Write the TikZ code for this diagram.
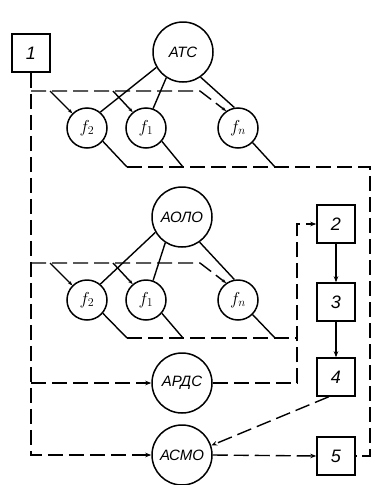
\documentclass[tikz,border=0pt]{standalone}
\usepackage{fontspec}
\setmainfont{Liberation Sans}
\usetikzlibrary{arrows.meta}
\begin{document}
\begin{tikzpicture}[x=1pt,y=-1pt,
  ln/.style={line width=1.4pt},
  dsh/.style={ln, dash pattern=on 15pt off 6pt},
  arr/.style={-{Stealth[length=6pt,width=4.5pt]}},
  sarr/.style={-{Stealth[length=4.5pt,width=3.5pt]}},
  big/.style={circle,draw,line width=1.5pt,minimum size=60pt,inner sep=0pt,font=\itshape\fontsize{15}{15}\selectfont},
  sm/.style={circle,draw,line width=1.5pt,minimum size=40pt,inner sep=0pt,font=\fontsize{17}{17}\selectfont},
  bx/.style={rectangle,draw,line width=1.5pt,minimum size=38pt,inner sep=0pt,font=\itshape\fontsize{18}{18}\selectfont}]
\useasboundingbox (0,0) rectangle (375,485);

% nodes
\node[bx] (b1) at (31,53) {1};
\node[big] (atc) at (183,52) {АТС};
\node[sm] (f21) at (87,128) {$f_2$};
\node[sm] (f11) at (146,128) {$f_1$};
\node[sm] (fn1) at (238,128) {$f_n$};
\node[big] (adlo) at (182,217) {АОЛО};
\node[sm] (f22) at (87,300) {$f_2$};
\node[sm] (f12) at (146,300) {$f_1$};
\node[sm] (fn2) at (238,300) {$f_n$};
\node[big] (ards) at (182,383) {АРДС};
\node[big] (acmo) at (182,455) {АСМО};
\node[bx] (b2) at (336,224) {2};
\node[bx] (b3) at (336,302) {3};
\node[bx] (b4) at (336,377) {4};
\node[bx] (b5) at (336,456) {5};

% left bus
\coordinate (la) at (31,383);
\draw[dsh,arr] (b1.south) |- (acmo.west);
\draw[dsh,arr] (la) -- (ards.west);

% top group
\coordinate (t0) at (31,91);
\coordinate (t1) at (200,91);
\coordinate (tb1) at (50,91);
\coordinate (tb2) at (113,91);
\draw[dsh,sarr] (t0) -- (t1) -- (fn1.125);
\draw[ln,sarr] (tb1) -- (f21.135);
\draw[ln,sarr] (tb2) -- (f11.130);
\draw[ln] (atc.210) -- (f21.50);
\draw[ln] (atc.237) -- (f11.70);
\draw[ln] (atc.305) -- (fn1.100);
\coordinate (p21) at (127,167);
\coordinate (p11) at (183,167);
\coordinate (pn1) at (275,167);
\coordinate (r1) at (370,167);
\coordinate (r5) at (370,456);
\draw[ln] (f21.-40) -- (p21);
\draw[ln] (f11.-40) -- (p11);
\draw[ln] (fn1.-45) -- (pn1);
\draw[dsh] (p21) -- (r1) -- (r5) -- (b5.east);

% middle group
\coordinate (m0) at (31,263);
\coordinate (m1) at (200,263);
\coordinate (mb1) at (50,263);
\coordinate (mb2) at (113,263);
\draw[dsh,sarr] (m0) -- (m1) -- (fn2.125);
\draw[ln,sarr] (mb1) -- (f22.135);
\draw[ln,sarr] (mb2) -- (f12.130);
\draw[ln] (adlo.210) -- (f22.50);
\draw[ln] (adlo.237) -- (f12.70);
\draw[ln] (adlo.305) -- (fn2.100);
\coordinate (p22) at (127,338);
\coordinate (p12) at (183,338);
\coordinate (pn2) at (275,338);
\coordinate (q) at (297,338);
\draw[ln] (f22.-40) -- (p22);
\draw[ln] (f12.-40) -- (p12);
\draw[ln] (fn2.-45) -- (pn2);
\draw[dsh] (p22) -- (q);

% right chain
\coordinate (qa) at (297,383);
\coordinate (qt) at (297,224);
\draw[dsh,arr] (ards.east) -- (qa) -- (qt) -- (b2.west);
\draw[ln,arr] (b2) -- (b3);
\draw[ln,arr] (b3) -- (b4);
\draw[dsh,arr] (b4.250) -- (acmo.18);
\draw[dsh,arr] (acmo.east) -- (b5.west);
\end{tikzpicture}
\end{document}
